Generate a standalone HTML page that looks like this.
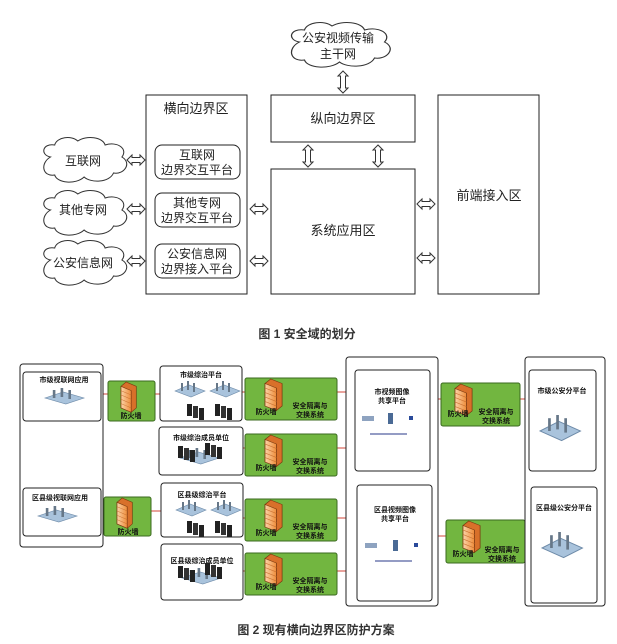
<!DOCTYPE html>
<html><head><meta charset="utf-8"><style>
body{margin:0;background:#fff;}
svg{display:block;font-family:"Liberation Sans","Noto Sans CJK SC",sans-serif;}
.t{font-size:13px;fill:#222;}
.s{font-size:12px;fill:#222;}
.b{font-size:7px;font-weight:bold;fill:#111;}
.g{fill:#72b640;stroke:#3b6a1f;stroke-width:1;}
.k{fill:#fff;stroke:#222;stroke-width:1;}
.r{stroke:#d0453a;stroke-width:1;}
</style></head><body>
<svg width="617" height="644" viewBox="0 0 617 644">
<defs>
<linearGradient id="fw" x1="0" x2="1"><stop offset="0" stop-color="#fbd3a8"/><stop offset="1" stop-color="#ee8d3b"/></linearGradient>
<g id="wall">
<path d="M0,6 L6,0 L18,6 L18,36 L12,42 L0,36Z" fill="#d8702a" stroke="#7a3a10" stroke-width="0.8"/>
<path d="M0,6 L12,12 L12,42 L0,36Z" fill="url(#fw)" stroke="#7a3a10" stroke-width="0.8"/>
<path d="M0,12 L12,18 M0,18 L12,24 M0,24 L12,30 M0,30 L12,36" stroke="#c66a2a" stroke-width="0.6"/>
</g>
<g id="cloud">
<path d="M10,20 C0,18 2,6 14,8 C16,0 30,-2 36,4 C44,-2 60,0 62,8 C74,4 84,12 78,20 C88,26 80,38 70,36 C66,46 48,46 42,40 C34,48 16,46 14,38 C2,40 0,26 10,20Z" fill="#fff" stroke="#333" stroke-width="1"/>
</g>
<g id="harr"><path d="M0,0 L5,-5 L5,-2.5 L13,-2.5 L13,-5 L18,0 L13,5 L13,2.5 L5,2.5 L5,5Z" fill="#fff" stroke="#333"/></g>
<g id="varr"><path d="M0,0 L-5,5 L-2.5,5 L-2.5,17 L-5,17 L0,22 L5,17 L2.5,17 L2.5,5 L5,5Z" fill="#fff" stroke="#333"/></g>
<g id="srv"><path d="M0,10 L14,4 L30,10 L16,16Z" fill="#a9c3dc" stroke="#6d8aa8" stroke-width="0.6"/>
<rect x="6" y="2" width="2" height="8" fill="#678"/><rect x="12" y="0" width="2" height="9" fill="#678"/><rect x="18" y="2" width="2" height="9" fill="#678"/></g>
<g id="blk"><rect x="0" y="0" width="5" height="12" fill="#222"/><rect x="6" y="2" width="5" height="12" fill="#333"/><rect x="12" y="4" width="5" height="12" fill="#222"/></g>
</defs>

<!-- FIG 1 -->
<use href="#cloud" transform="translate(287,22) scale(1.25,1)"/>
<text class="s" x="338" y="42" text-anchor="middle">公安视频传输</text>
<text class="s" x="338" y="58" text-anchor="middle">主干网</text>
<use href="#varr" transform="translate(343,71)"/>

<rect class="k" x="146" y="95" width="101" height="199"/>
<text class="t" x="196" y="113" text-anchor="middle">横向边界区</text>
<rect class="k" x="155" y="145" width="85" height="34" rx="7"/>
<text class="s" x="197" y="159" text-anchor="middle">互联网</text>
<text class="s" x="197" y="174" text-anchor="middle">边界交互平台</text>
<rect class="k" x="155" y="193" width="85" height="34" rx="7"/>
<text class="s" x="197" y="207" text-anchor="middle">其他专网</text>
<text class="s" x="197" y="222" text-anchor="middle">边界交互平台</text>
<rect class="k" x="155" y="244" width="85" height="34" rx="7"/>
<text class="s" x="197" y="258" text-anchor="middle">公安信息网</text>
<text class="s" x="197" y="273" text-anchor="middle">边界接入平台</text>

<rect class="k" x="271" y="95" width="144" height="47"/>
<text class="t" x="343" y="123" text-anchor="middle">纵向边界区</text>
<rect class="k" x="271" y="169" width="144" height="125"/>
<text class="t" x="343" y="235" text-anchor="middle">系统应用区</text>
<rect class="k" x="438" y="95" width="101" height="199"/>
<text class="t" x="489" y="200" text-anchor="middle">前端接入区</text>
<use href="#varr" transform="translate(308,145)"/>
<use href="#varr" transform="translate(378,145)"/>

<use href="#cloud" transform="translate(40,137) scale(1.05,1)"/>
<text class="s" x="83" y="165" text-anchor="middle">互联网</text>
<use href="#cloud" transform="translate(40,190) scale(1.05,1)"/>
<text class="s" x="83" y="214" text-anchor="middle">其他专网</text>
<use href="#cloud" transform="translate(40,240) scale(1.05,1)"/>
<text class="s" x="83" y="267" text-anchor="middle">公安信息网</text>
<use href="#harr" transform="translate(127,160)"/>
<use href="#harr" transform="translate(127,209)"/>
<use href="#harr" transform="translate(127,261)"/>
<use href="#harr" transform="translate(250,209)"/>
<use href="#harr" transform="translate(250,261)"/>
<use href="#harr" transform="translate(417,204)"/>
<use href="#harr" transform="translate(417,258)"/>
<text x="307" y="338" text-anchor="middle" style="font-size:12px;font-weight:bold;fill:#333">图 1 安全域的划分</text>

<!-- FIG 2 -->
<!-- red lines -->
<line class="r" x1="101" y1="394" x2="160" y2="394"/>
<line class="r" x1="101" y1="511" x2="161" y2="511"/>
<line class="r" x1="242" y1="392" x2="355" y2="392"/>
<line class="r" x1="243" y1="448" x2="355" y2="448"/>
<line class="r" x1="243" y1="518" x2="357" y2="518"/>
<line class="r" x1="243" y1="571" x2="357" y2="571"/>
<line class="r" x1="430" y1="399" x2="529" y2="399"/>
<line class="r" x1="432" y1="536" x2="531" y2="536"/>

<rect class="k" x="20" y="364" width="83" height="183" rx="3"/>
<rect class="k" x="23" y="372" width="78" height="49" rx="3"/>
<text class="b" x="64" y="382" text-anchor="middle">市级视联网应用</text>
<use href="#srv" transform="translate(45,388) scale(1.3,1)"/>
<rect class="k" x="23" y="488" width="78" height="48" rx="3"/>
<text class="b" x="60" y="500" text-anchor="middle">区县级视联网应用</text>
<use href="#srv" transform="translate(38,506) scale(1.3,1)"/>

<rect class="g" x="108" y="381" width="47" height="40" rx="2"/>
<use href="#wall" transform="translate(121,382) scale(0.85,0.72)"/>
<text class="b" x="131" y="418" text-anchor="middle">防火墙</text>
<rect class="g" x="104" y="497" width="47" height="39" rx="2"/>
<use href="#wall" transform="translate(117,498) scale(0.85,0.72)"/>
<text class="b" x="128" y="534" text-anchor="middle">防火墙</text>

<rect class="k" x="160" y="366" width="82" height="55" rx="3"/>
<text class="b" x="201" y="377" text-anchor="middle">市级综治平台</text>
<use href="#srv" transform="translate(175,381)"/><use href="#srv" transform="translate(210,381)"/><use href="#blk" transform="translate(187,404)"/><use href="#blk" transform="translate(215,404)"/>
<rect class="k" x="159" y="427" width="84" height="48" rx="3"/>
<text class="b" x="201" y="440" text-anchor="middle">市级综治成员单位</text>
<use href="#srv" transform="translate(180,448) scale(1.3,1)"/><use href="#blk" transform="translate(178,446)"/><use href="#blk" transform="translate(205,443)"/>
<rect class="k" x="161" y="483" width="82" height="54" rx="3"/>
<text class="b" x="202" y="497" text-anchor="middle">区县级综治平台</text>
<use href="#srv" transform="translate(176,500)"/><use href="#srv" transform="translate(211,500)"/><use href="#blk" transform="translate(187,521)"/><use href="#blk" transform="translate(215,521)"/>
<rect class="k" x="161" y="544" width="82" height="56" rx="3"/>
<text class="b" x="202" y="563" text-anchor="middle">区县级综治成员单位</text>
<use href="#srv" transform="translate(182,568) scale(1.3,1)"/><use href="#blk" transform="translate(178,566)"/><use href="#blk" transform="translate(205,563)"/>

<g>
<rect class="g" x="245" y="378" width="92" height="42" rx="2"/>
<use href="#wall" transform="translate(265,379) scale(0.95,0.75)"/>
<text class="b" x="266" y="414" text-anchor="middle">防火墙</text>
<text class="b" x="310" y="408" text-anchor="middle">安全隔离与</text><text class="b" x="310" y="417" text-anchor="middle">交换系统</text>
</g>
<g>
<rect class="g" x="245" y="434" width="92" height="42" rx="2"/>
<use href="#wall" transform="translate(265,435) scale(0.95,0.75)"/>
<text class="b" x="266" y="470" text-anchor="middle">防火墙</text>
<text class="b" x="310" y="464" text-anchor="middle">安全隔离与</text><text class="b" x="310" y="473" text-anchor="middle">交换系统</text>
</g>
<g>
<rect class="g" x="245" y="499" width="92" height="42" rx="2"/>
<use href="#wall" transform="translate(265,500) scale(0.95,0.75)"/>
<text class="b" x="266" y="535" text-anchor="middle">防火墙</text>
<text class="b" x="310" y="529" text-anchor="middle">安全隔离与</text><text class="b" x="310" y="538" text-anchor="middle">交换系统</text>
</g>
<g>
<rect class="g" x="245" y="553" width="92" height="42" rx="2"/>
<use href="#wall" transform="translate(265,554) scale(0.95,0.75)"/>
<text class="b" x="266" y="589" text-anchor="middle">防火墙</text>
<text class="b" x="310" y="583" text-anchor="middle">安全隔离与</text><text class="b" x="310" y="592" text-anchor="middle">交换系统</text>
</g>

<rect class="k" x="346" y="357" width="92" height="249" rx="3"/>
<rect class="k" x="355" y="370" width="75" height="101" rx="3"/>
<text class="b" x="392" y="394" text-anchor="middle">市视频图像</text><text class="b" x="392" y="403" text-anchor="middle">共享平台</text>
<rect x="362" y="416" width="12" height="5" fill="#8ea3c0"/><rect x="388" y="413" width="5" height="11" fill="#4a6a95"/><rect x="409" y="416" width="4" height="4" fill="#2a4a9a"/>
<line x1="370" y1="434" x2="407" y2="434" stroke="#2a3a8a"/>
<rect class="k" x="357" y="485" width="75" height="116" rx="3"/>
<text class="b" x="395" y="512" text-anchor="middle">区县视频图像</text><text class="b" x="395" y="521" text-anchor="middle">共享平台</text>
<rect x="365" y="543" width="12" height="5" fill="#8ea3c0"/><rect x="393" y="540" width="5" height="11" fill="#4a6a95"/><rect x="414" y="543" width="4" height="4" fill="#2a4a9a"/>
<line x1="375" y1="561" x2="412" y2="561" stroke="#2a3a8a"/>

<rect class="g" x="441" y="383" width="79" height="43" rx="2"/>
<use href="#wall" transform="translate(455,384) scale(0.95,0.75)"/>
<text class="b" x="458" y="416" text-anchor="middle">防火墙</text>
<text class="b" x="496" y="414" text-anchor="middle">安全隔离与</text><text class="b" x="496" y="423" text-anchor="middle">交换系统</text>
<rect class="g" x="446" y="520" width="79" height="43" rx="2"/>
<use href="#wall" transform="translate(463,521) scale(0.95,0.75)"/>
<text class="b" x="463" y="556" text-anchor="middle">防火墙</text>
<text class="b" x="502" y="552" text-anchor="middle">安全隔离与</text><text class="b" x="502" y="561" text-anchor="middle">交换系统</text>

<rect class="k" x="525" y="357" width="80" height="249" rx="3"/>
<rect class="k" x="529" y="370" width="67" height="101" rx="3"/>
<text class="b" x="562" y="393" text-anchor="middle">市级公安分平台</text>
<use href="#srv" transform="translate(540,415) scale(1.35,1.6)"/>
<rect class="k" x="531" y="487" width="66" height="116" rx="3"/>
<text class="b" x="564" y="510" text-anchor="middle">区县级公安分平台</text>
<use href="#srv" transform="translate(542,532) scale(1.35,1.6)"/>

<text x="316" y="634" text-anchor="middle" style="font-size:12px;font-weight:bold;fill:#333">图 2 现有横向边界区防护方案</text>
</svg>
</body></html>
